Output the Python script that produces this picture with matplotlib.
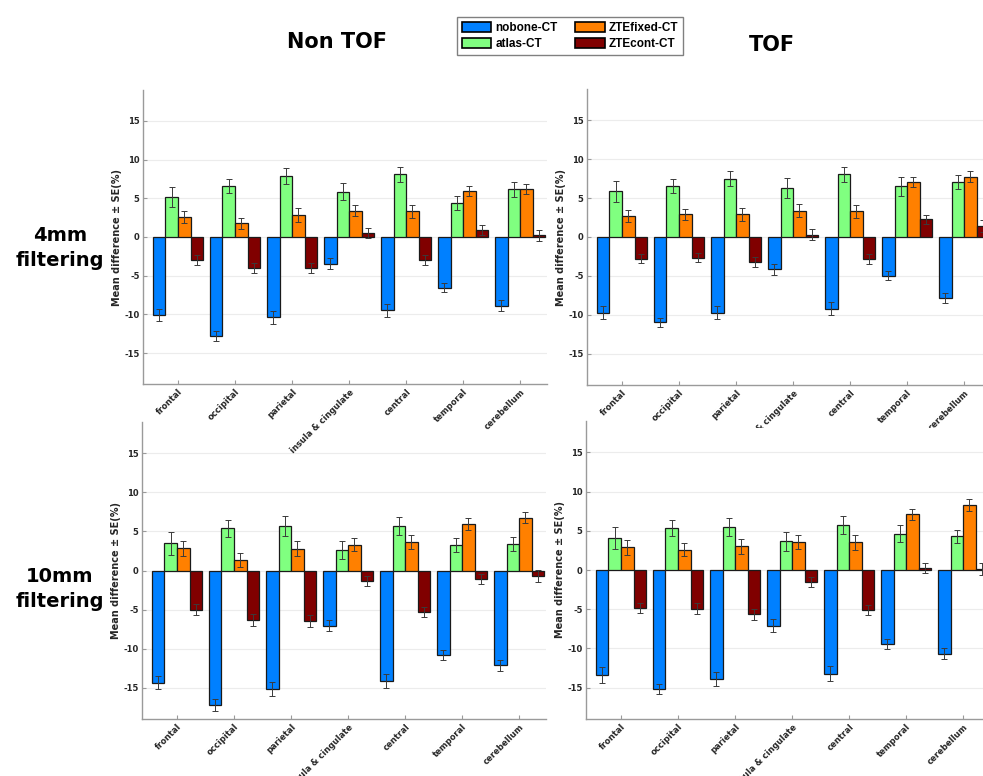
import numpy as np
import matplotlib
matplotlib.use('Agg')
import matplotlib.pyplot as plt
from matplotlib.patches import Patch
from matplotlib.transforms import Bbox, TransformedBbox

plt.rcParams['axes.unicode_minus'] = False

regions = ['frontal', 'occipital', 'parietal', 'insula & cingulate',
           'central', 'temporal', 'cerebellum']
methods = ['nobone-CT', 'atlas-CT', 'ZTEfixed-CT', 'ZTEcont-CT']
colors = ['#0080ff', '#80ff80', '#ff8000', '#800000']

# rows: nobone-CT, atlas-CT, ZTEfixed-CT, ZTEcont-CT
nontof_4mm = [[-10.1, -12.8, -10.4, -3.45, -9.45, -6.55, -8.9],
              [5.2, 6.6, 7.9, 5.85, 8.1, 4.35, 6.15],
              [2.6, 1.75, 2.8, 3.4, 3.35, 5.95, 6.2],
              [-3.0, -4.0, -4.0, 0.5, -3.0, 0.9, 0.2]]
nontof_4mm_se = [[0.8, 0.65, 0.8, 0.7, 0.85, 0.6, 0.7],
                 [1.3, 0.9, 1.0, 1.1, 1.0, 0.9, 1.0],
                 [0.8, 0.7, 0.9, 0.75, 0.85, 0.6, 0.65],
                 [0.65, 0.65, 0.65, 0.65, 0.65, 0.6, 0.75]]

tof_4mm = [[-9.7, -10.95, -9.7, -4.15, -9.2, -5.0, -7.85],
           [5.85, 6.6, 7.5, 6.3, 8.05, 6.5, 7.05],
           [2.65, 2.9, 2.9, 3.4, 3.3, 7.0, 7.75],
           [-2.8, -2.65, -3.25, 0.3, -2.85, 2.3, 1.45]]
tof_4mm_se = [[0.8, 0.58, 0.8, 0.73, 0.85, 0.58, 0.64],
              [1.3, 0.9, 1.0, 1.27, 1.0, 1.2, 0.94],
              [0.77, 0.66, 0.8, 0.8, 0.8, 0.64, 0.68],
              [0.6, 0.58, 0.65, 0.7, 0.64, 0.58, 0.75]]

nontof_10mm = [[-14.35, -17.2, -15.2, -7.05, -14.15, -10.8, -12.1],
               [3.5, 5.4, 5.7, 2.65, 5.7, 3.3, 3.4],
               [2.85, 1.4, 2.8, 3.3, 3.65, 5.9, 6.75],
               [-5.0, -6.35, -6.5, -1.4, -5.35, -1.1, -0.75]]
nontof_10mm_se = [[0.87, 0.72, 0.89, 0.72, 0.89, 0.62, 0.7],
                  [1.48, 1.12, 1.23, 1.12, 1.17, 0.91, 0.87],
                  [0.95, 0.89, 1.0, 0.83, 0.91, 0.76, 0.68],
                  [0.66, 0.76, 0.76, 0.64, 0.62, 0.64, 0.78]]

tof_10mm = [[-13.4, -15.15, -13.9, -7.1, -13.2, -9.4, -10.7],
            [4.05, 5.35, 5.5, 3.65, 5.75, 4.65, 4.3],
            [2.9, 2.6, 3.0, 3.55, 3.55, 7.1, 8.25],
            [-4.85, -4.95, -5.65, -1.55, -5.05, 0.3, 0.15]]
tof_10mm_se = [[1.0, 0.64, 0.89, 0.85, 0.95, 0.66, 0.7],
               [1.4, 0.97, 1.14, 1.25, 1.17, 1.12, 0.8],
               [0.93, 0.8, 1.0, 0.87, 0.95, 0.74, 0.74],
               [0.68, 0.68, 0.68, 0.68, 0.64, 0.62, 0.8]]

W, H = 983, 776
fig = plt.figure(figsize=(W / 100, H / 100), dpi=100)


def px_axes(left, top, right, bottom):
    return fig.add_axes([left / W, 1 - bottom / H, (right - left) / W, (bottom - top) / H])


def draw_panel(ax, mean, se):
    x = np.arange(1, len(regions) + 1)
    w = 0.22
    for i in range(len(methods)):
        pos = x + (i - 1.5) * w
        ax.bar(pos, mean[i], w, color=colors[i], edgecolor='#1a1a1a', linewidth=0.9, zorder=2)
        ax.errorbar(pos, mean[i], yerr=se[i], fmt='none', ecolor='#3a3a3a',
                    elinewidth=0.7, capsize=2.5, capthick=0.7, zorder=3)
    ax.set_xlim(0.386, 7.47)
    ax.set_ylim(-19, 19)
    ax.set_yticks([-15, -10, -5, 0, 5, 10, 15])
    ax.set_xticks(x)
    ax.set_xticklabels(regions, rotation=45, ha='right', rotation_mode='anchor',
                       fontsize=6, fontweight='bold', color='#262626')
    for lbl in ax.get_yticklabels():
        lbl.set_fontweight('bold')
    ax.grid(axis='y', color='#ececec', linewidth=0.8)
    ax.set_axisbelow(True)
    for s in ['top', 'right']:
        ax.spines[s].set_visible(False)
    for s in ['left', 'bottom']:
        ax.spines[s].set_color('#9a9a9a')
        ax.spines[s].set_linewidth(1.0)
    ax.tick_params(direction='in', length=3, color='#9a9a9a', labelsize=6,
                   labelcolor='#262626', pad=2.5)
    ax.set_ylabel('Mean difference ± SE(%)', fontsize=7, fontweight='bold', color='#262626')
    ax.yaxis.set_label_coords(-21 / 404, 0.5)


ax_tl = px_axes(143, 90, 547, 384)
ax_tr = px_axes(587, 89, 991, 385)
ax_bl = px_axes(142, 422, 546, 719)
ax_br = px_axes(586, 421, 990, 719)

draw_panel(ax_tl, nontof_4mm, nontof_4mm_se)
draw_panel(ax_tr, tof_4mm, tof_4mm_se)
draw_panel(ax_bl, nontof_10mm, nontof_10mm_se)
draw_panel(ax_br, tof_10mm, tof_10mm_se)

ax_tl.set_zorder(3)
ax_tr.set_zorder(3)

# the right top panel's labels are cut where the lower image starts
cut = TransformedBbox(Bbox([[0, 1 - 428 / H], [1, 1]]), fig.transFigure)
for lbl in ax_tr.get_xticklabels():
    lbl.set_clip_box(cut)
    lbl.set_clip_on(True)

fig.text(337 / W, 1 - 42 / H, 'Non TOF', ha='center', va='center', fontsize=15, fontweight='bold')
fig.text(772 / W, 1 - 45 / H, 'TOF', ha='center', va='center', fontsize=15, fontweight='bold')
fig.text(60 / W, 1 - 248 / H, '4mm\nfiltering', ha='center', va='center', fontsize=14,
         fontweight='bold', linespacing=1.45)
fig.text(60 / W, 1 - 589 / H, '10mm\nfiltering', ha='center', va='center', fontsize=14,
         fontweight='bold', linespacing=1.45)

handles = [Patch(facecolor=c, edgecolor='black', linewidth=1.2) for c in colors]
fig.legend(handles, methods, ncol=2, loc='upper left', bbox_to_anchor=(457 / W, 1 - 17 / H),
           prop=dict(family='Liberation Sans', weight='bold', size=8.5),
           frameon=True, fancybox=False, edgecolor='#808080', framealpha=1,
           handlelength=2.5, handleheight=0.9, handletextpad=0.35, columnspacing=1.5,
           labelspacing=0.35, borderpad=0.4, borderaxespad=0)

fig.savefig('out.png', dpi=100, facecolor='white')
